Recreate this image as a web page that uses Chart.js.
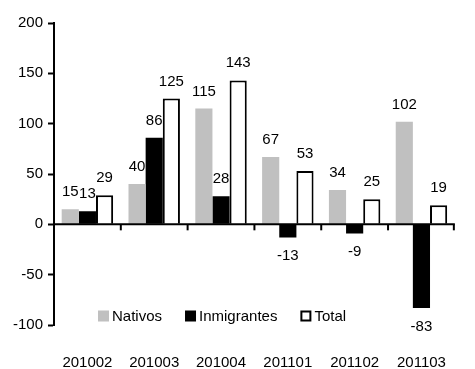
<!DOCTYPE html>
<html>
<head>
<meta charset="utf-8">
<script src="https://cdn.jsdelivr.net/npm/chart.js@4/dist/chart.umd.min.js"></script>
<style>
html,body{margin:0;padding:0;background:#fff;}
#wrap{width:475px;height:369px;position:relative;}
</style>
</head>
<body>
<div id="wrap"><canvas id="c" width="475" height="369"></canvas></div>
<script>
const categories = ['201002','201003','201004','201101','201102','201103'];
const nativos = [15, 40, 115, 67, 34, 102];
const inmigrantes = [13, 86, 28, -13, -9, -83];
const total = [29, 125, 143, 53, 25, 19];
const seriesNames = ['Nativos','Inmigrantes','Total'];
const yTicks = [-100, -50, 0, 50, 100, 150, 200];

const FONT = '"Liberation Sans", Arial, sans-serif';
const FS = 15;

const zeroAxisPlugin = {
  id: 'zeroAxis',
  afterDatasetsDraw(chart) {
    const ctx = chart.ctx, x = chart.scales.x, y = chart.scales.y;
    const y0 = y.getPixelForValue(0);
    const area = chart.chartArea;
    ctx.save();
    ctx.strokeStyle = '#000';
    ctx.lineWidth = 2;
    ctx.beginPath();
    ctx.moveTo(area.left, y0);
    ctx.lineTo(area.right, y0);
    ctx.stroke();
    const half = (x.getPixelForValue(1) - x.getPixelForValue(0)) / 2;
    for (let i = 0; i < categories.length; i++) {
      const px = x.getPixelForValue(i) + half;
      ctx.beginPath();
      ctx.moveTo(Math.min(px, area.right - 1), y0);
      ctx.lineTo(Math.min(px, area.right - 1), y0 + 6);
      ctx.stroke();
    }
    ctx.restore();
  }
};

const dataLabelPlugin = {
  id: 'dataLabels',
  afterDatasetsDraw(chart) {
    const ctx = chart.ctx;
    ctx.save();
    ctx.font = FS + 'px ' + FONT;
    ctx.fillStyle = '#000';
    ctx.textAlign = 'center';
    ctx.textBaseline = 'alphabetic';
    chart.data.datasets.forEach((ds, di) => {
      const meta = chart.getDatasetMeta(di);
      meta.data.forEach((bar, i) => {
        const v = ds.data[i];
        if (v >= 0) {
          ctx.fillText(String(v), bar.x, bar.y - 13);
        } else {
          ctx.fillText(String(v), bar.x, bar.y + 23);
        }
      });
    });
    ctx.restore();
  }
};

const legendPlugin = {
  id: 'innerLegend',
  afterDraw(chart) {
    const ctx = chart.ctx, area = chart.chartArea;
    const cy = area.bottom - 9;
    let x = area.left + 44;
    ctx.save();
    ctx.font = FS + 'px ' + FONT;
    ctx.textBaseline = 'middle';
    ctx.textAlign = 'left';
    chart.data.datasets.forEach((ds) => {
      const s = 11;
      if (ds.borderWidth > 0) {
        ctx.fillStyle = ds.backgroundColor;
        ctx.fillRect(x + 1, cy - s / 2 + 1, s - 2, s - 2);
        ctx.strokeStyle = ds.borderColor;
        ctx.lineWidth = 2;
        ctx.strokeRect(x + 1, cy - s / 2 + 1, s - 2, s - 2);
      } else {
        ctx.fillStyle = ds.backgroundColor;
        ctx.fillRect(x, cy - s / 2, s, s);
      }
      ctx.fillStyle = '#000';
      ctx.fillText(ds.label, x + s + 3, cy + 1);
      x += s + 3 + ctx.measureText(ds.label).width + 23;
    });
    ctx.restore();
  }
};

new Chart(document.getElementById('c'), {
  type: 'bar',
  data: {
    labels: categories,
    datasets: [
      { label: seriesNames[0], data: nativos, backgroundColor: '#c0c0c0', borderWidth: 0 },
      { label: seriesNames[1], data: inmigrantes, backgroundColor: '#000000', borderWidth: 0 },
      { label: seriesNames[2], data: total, backgroundColor: '#ffffff', borderColor: '#000000', borderWidth: 2, borderSkipped: 'start' }
    ]
  },
  options: {
    responsive: false,
    animation: false,
    devicePixelRatio: 1,
    layout: { padding: { left: 10, right: 1, top: 23, bottom: 0 } },
    datasets: { bar: { categoryPercentage: 0.77, barPercentage: 1.0 } },
    plugins: { legend: { display: false }, tooltip: { enabled: false } },
    scales: {
      x: {
        afterFit(scale) { scale.height = 44; },
        grid: { display: false, drawTicks: false },
        border: { display: false },
        ticks: { color: '#000', font: { family: FONT, size: FS }, padding: 29, maxRotation: 0, autoSkip: false }
      },
      y: {
        min: -100, max: 200,
        afterBuildTicks(scale) { scale.ticks = yTicks.map(v => ({ value: v })); },
        afterFit(scale) { scale.width = 44; },
        grid: { drawOnChartArea: false, drawTicks: true, tickLength: 6, color: '#000', tickWidth: 2 },
        border: { display: true, color: '#000', width: 2 },
        ticks: { color: '#000', font: { family: FONT, size: FS }, padding: 5 }
      }
    }
  },
  plugins: [zeroAxisPlugin, dataLabelPlugin, legendPlugin]
});
</script>
</body>
</html>
